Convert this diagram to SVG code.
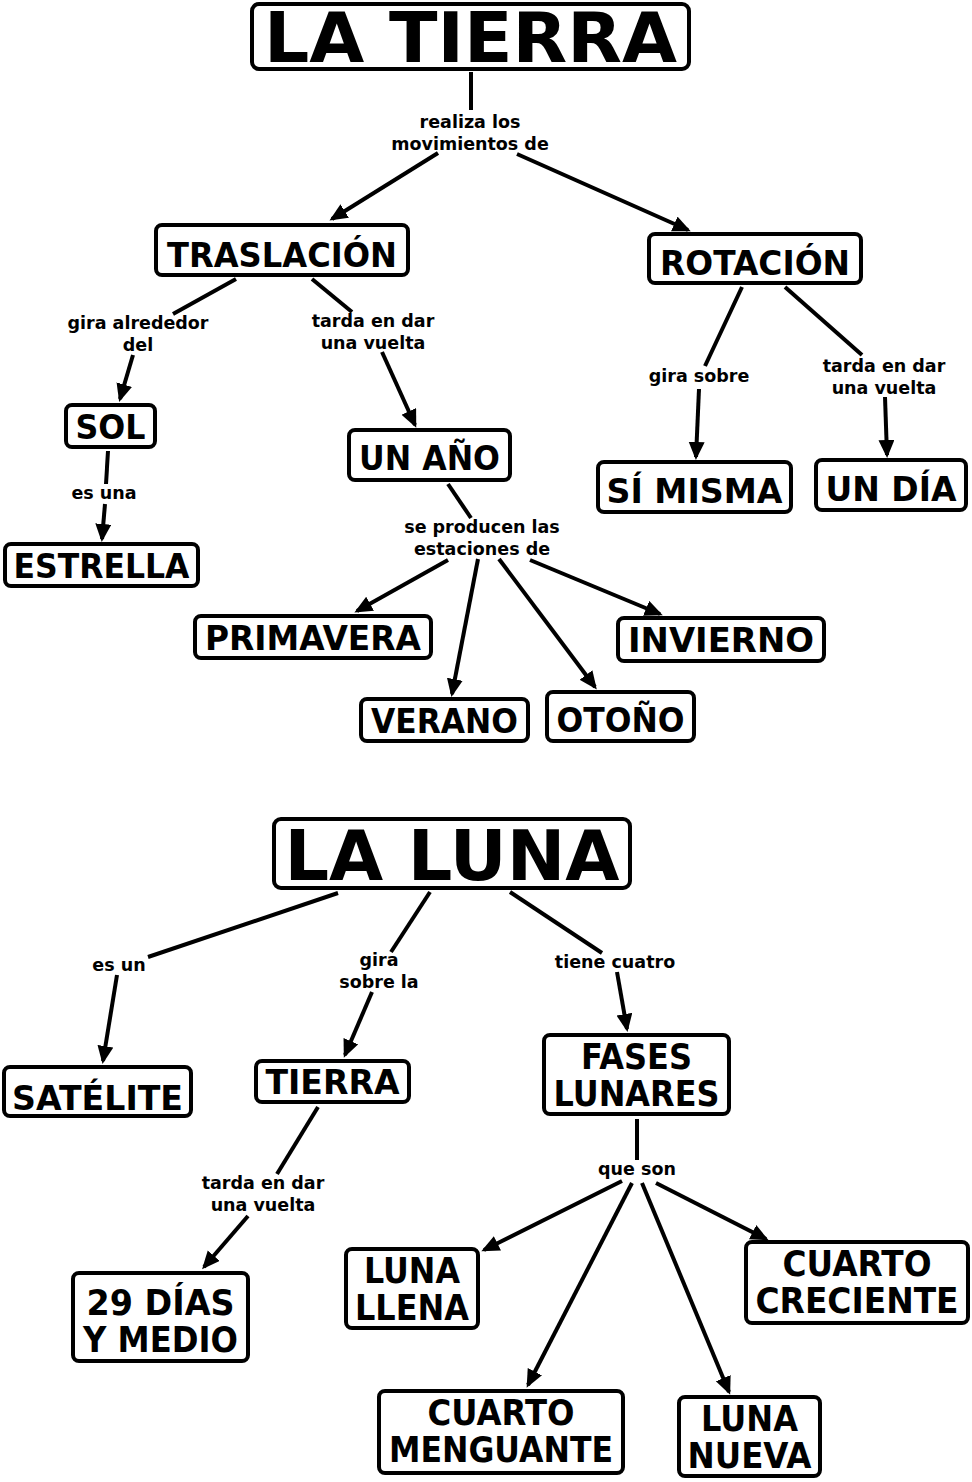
<svg xmlns="http://www.w3.org/2000/svg" width="972" height="1482" viewBox="0 0 972 1482">
<style>
.box{fill:#fff;stroke:#000;stroke-width:4}
.n{font-family:"DejaVu Sans","Liberation Sans",sans-serif;font-weight:bold;fill:#000;text-anchor:middle}
.lb{font-family:"DejaVu Sans","Liberation Sans",sans-serif;font-weight:bold;font-size:17.5px;fill:#000;text-anchor:middle}
.c{stroke:#000;stroke-width:4;fill:none}
.a{marker-end:url(#ah)}
</style>
<defs>
<marker id="ah" markerUnits="userSpaceOnUse" markerWidth="20" markerHeight="18" refX="15" refY="8" orient="auto">
<path d="M0,0 L18,8 L0,16 Z" fill="#000"/>
</marker>
</defs>
<rect width="972" height="1482" fill="#fff"/>
<g id="connectors">
<line class="c" x1="471" y1="72" x2="471" y2="110"/>
<line class="c a" x1="438" y1="153" x2="332" y2="219"/>
<line class="c a" x1="517" y1="154" x2="688" y2="230"/>
<line class="c" x1="236" y1="279" x2="173" y2="314"/>
<line class="c a" x1="133" y1="355" x2="120" y2="399"/>
<line class="c" x1="312" y1="279" x2="352" y2="312"/>
<line class="c a" x1="382" y1="352" x2="415" y2="425"/>
<line class="c" x1="742" y1="287" x2="705" y2="366"/>
<line class="c a" x1="699" y1="389" x2="696" y2="457"/>
<line class="c" x1="785" y1="287" x2="862" y2="355"/>
<line class="c a" x1="885" y1="397" x2="887" y2="455"/>
<line class="c" x1="108" y1="451" x2="106" y2="484"/>
<line class="c a" x1="105" y1="504" x2="102" y2="539"/>
<line class="c" x1="448" y1="484" x2="471" y2="518"/>
<line class="c a" x1="448" y1="560" x2="357" y2="611"/>
<line class="c a" x1="478" y1="559" x2="452" y2="694"/>
<line class="c a" x1="499" y1="559" x2="595" y2="687"/>
<line class="c a" x1="530" y1="560" x2="660" y2="614"/>
<line class="c" x1="338" y1="893" x2="148" y2="957"/>
<line class="c a" x1="117" y1="975" x2="103" y2="1061"/>
<line class="c" x1="430" y1="892" x2="391" y2="952"/>
<line class="c a" x1="372" y1="992" x2="345" y2="1055"/>
<line class="c" x1="510" y1="892" x2="602" y2="953"/>
<line class="c a" x1="617" y1="972" x2="627" y2="1029"/>
<line class="c" x1="318" y1="1107" x2="277" y2="1174"/>
<line class="c a" x1="248" y1="1216" x2="204" y2="1267"/>
<line class="c" x1="637" y1="1119" x2="637" y2="1160"/>
<line class="c a" x1="622" y1="1181" x2="484" y2="1250"/>
<line class="c a" x1="632" y1="1183" x2="528" y2="1385"/>
<line class="c a" x1="642" y1="1183" x2="729" y2="1392"/>
<line class="c a" x1="656" y1="1183" x2="766" y2="1239"/>
</g>
<g id="labels">
<text class="lb" x="470" y="128">realiza los</text>
<text class="lb" x="470" y="150">movimientos de</text>
<text class="lb" x="138" y="329">gira alrededor</text>
<text class="lb" x="138" y="351">del</text>
<text class="lb" x="373" y="327">tarda en dar</text>
<text class="lb" x="373" y="349">una vuelta</text>
<text class="lb" x="699" y="382">gira sobre</text>
<text class="lb" x="884" y="372">tarda en dar</text>
<text class="lb" x="884" y="394">una vuelta</text>
<text class="lb" x="104" y="499">es una</text>
<text class="lb" x="482" y="533">se producen las</text>
<text class="lb" x="482" y="555">estaciones de</text>
<text class="lb" x="119" y="971">es un</text>
<text class="lb" x="379" y="966">gira</text>
<text class="lb" x="379" y="988">sobre la</text>
<text class="lb" x="615" y="968">tiene cuatro</text>
<text class="lb" x="263" y="1189">tarda en dar</text>
<text class="lb" x="263" y="1211">una vuelta</text>
<text class="lb" x="637" y="1175">que son</text>
</g>
<g id="la-tierra"><rect class="box" x="252" y="4" width="437" height="65" rx="7"/><text class="n" x="470.5" y="62" font-size="69" textLength="413" lengthAdjust="spacingAndGlyphs">LA TIERRA</text></g>
<g id="traslacion"><rect class="box" x="156" y="225" width="252" height="50" rx="6"/><text class="n" x="282" y="267" font-size="33" textLength="230" lengthAdjust="spacingAndGlyphs">TRASLACIÓN</text></g>
<g id="rotacion"><rect class="box" x="649" y="234" width="212" height="49" rx="6"/><text class="n" x="755" y="275" font-size="33" textLength="190" lengthAdjust="spacingAndGlyphs">ROTACIÓN</text></g>
<g id="sol"><rect class="box" x="66" y="405" width="89" height="42" rx="6"/><text class="n" x="110.5" y="439" font-size="33" textLength="70" lengthAdjust="spacingAndGlyphs">SOL</text></g>
<g id="estrella"><rect class="box" x="5" y="544" width="193" height="42" rx="6"/><text class="n" x="101.5" y="578" font-size="33" textLength="176" lengthAdjust="spacingAndGlyphs">ESTRELLA</text></g>
<g id="un-ano"><rect class="box" x="349" y="430" width="161" height="50" rx="6"/><text class="n" x="429.5" y="470" font-size="33" textLength="141" lengthAdjust="spacingAndGlyphs">UN AÑO</text></g>
<g id="si-misma"><rect class="box" x="598" y="462" width="193" height="50" rx="6"/><text class="n" x="694.5" y="503" font-size="33" textLength="176" lengthAdjust="spacingAndGlyphs">SÍ MISMA</text></g>
<g id="un-dia"><rect class="box" x="816" y="460" width="150" height="50" rx="6"/><text class="n" x="891" y="501" font-size="33" textLength="131" lengthAdjust="spacingAndGlyphs">UN DÍA</text></g>
<g id="primavera"><rect class="box" x="195" y="616" width="236" height="42" rx="6"/><text class="n" x="313" y="650" font-size="33" textLength="216" lengthAdjust="spacingAndGlyphs">PRIMAVERA</text></g>
<g id="invierno"><rect class="box" x="618" y="618" width="206" height="43" rx="6"/><text class="n" x="721" y="652" font-size="33" textLength="186" lengthAdjust="spacingAndGlyphs">INVIERNO</text></g>
<g id="verano"><rect class="box" x="361" y="699" width="167" height="42" rx="6"/><text class="n" x="444.5" y="733" font-size="33" textLength="147" lengthAdjust="spacingAndGlyphs">VERANO</text></g>
<g id="otono"><rect class="box" x="547" y="692" width="147" height="49" rx="6"/><text class="n" x="620.5" y="732" font-size="33" textLength="128" lengthAdjust="spacingAndGlyphs">OTOÑO</text></g>
<g id="la-luna"><rect class="box" x="274" y="819" width="356" height="69" rx="7"/><text class="n" x="452" y="880" font-size="70" textLength="335" lengthAdjust="spacingAndGlyphs">LA LUNA</text></g>
<g id="satelite"><rect class="box" x="4" y="1067" width="187" height="49" rx="6"/><text class="n" x="97.5" y="1110" font-size="34" textLength="171" lengthAdjust="spacingAndGlyphs">SATÉLITE</text></g>
<g id="tierra"><rect class="box" x="256" y="1061" width="153" height="41" rx="6"/><text class="n" x="332.5" y="1094" font-size="34" textLength="134" lengthAdjust="spacingAndGlyphs">TIERRA</text></g>
<g id="fases-lunares"><rect class="box" x="544" y="1035" width="185" height="79" rx="6"/><text class="n" x="636.5" y="1069" font-size="35" textLength="111" lengthAdjust="spacingAndGlyphs">FASES</text><text class="n" x="636.5" y="1106" font-size="35" textLength="166" lengthAdjust="spacingAndGlyphs">LUNARES</text></g>
<g id="29-dias"><rect class="box" x="73" y="1273" width="175" height="88" rx="6"/><text class="n" x="160.5" y="1315" font-size="35" textLength="148" lengthAdjust="spacingAndGlyphs">29 DÍAS</text><text class="n" x="160.5" y="1352" font-size="35" textLength="155" lengthAdjust="spacingAndGlyphs">Y MEDIO</text></g>
<g id="luna-llena"><rect class="box" x="346" y="1249" width="132" height="79" rx="6"/><text class="n" x="412" y="1283" font-size="35" textLength="96" lengthAdjust="spacingAndGlyphs">LUNA</text><text class="n" x="412" y="1320" font-size="35" textLength="114" lengthAdjust="spacingAndGlyphs">LLENA</text></g>
<g id="cuarto-creciente"><rect class="box" x="746" y="1242" width="222" height="81" rx="6"/><text class="n" x="857" y="1276" font-size="35" textLength="149" lengthAdjust="spacingAndGlyphs">CUARTO</text><text class="n" x="857" y="1313" font-size="35" textLength="203" lengthAdjust="spacingAndGlyphs">CRECIENTE</text></g>
<g id="cuarto-menguante"><rect class="box" x="379" y="1391" width="244" height="82" rx="6"/><text class="n" x="501" y="1425" font-size="35" textLength="147" lengthAdjust="spacingAndGlyphs">CUARTO</text><text class="n" x="501" y="1462" font-size="35" textLength="224" lengthAdjust="spacingAndGlyphs">MENGUANTE</text></g>
<g id="luna-nueva"><rect class="box" x="679" y="1397" width="141" height="79" rx="6"/><text class="n" x="749.5" y="1431" font-size="35" textLength="97" lengthAdjust="spacingAndGlyphs">LUNA</text><text class="n" x="749.5" y="1468" font-size="35" textLength="124" lengthAdjust="spacingAndGlyphs">NUEVA</text></g>
</svg>
